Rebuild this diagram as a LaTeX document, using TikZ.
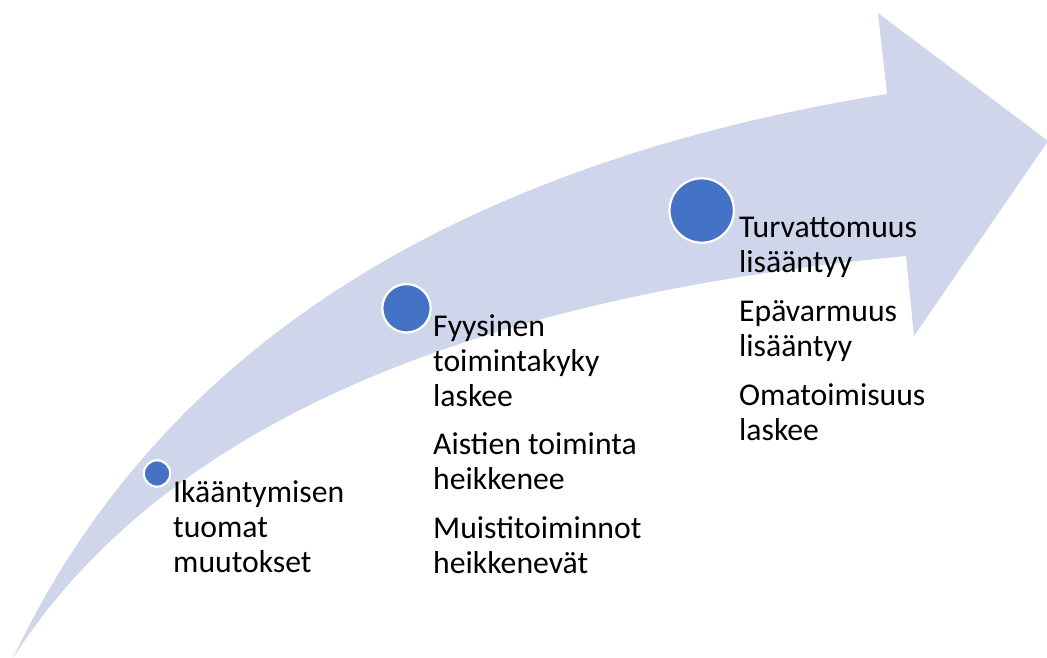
\documentclass[tikz,border=0pt]{standalone}
\usepackage{fontspec}
\setmainfont{Carlito}
\definecolor{bandfill}{HTML}{CFD5EA}
\definecolor{dotblue}{HTML}{4472C4}
\begin{document}
\begin{tikzpicture}[x=1pt,y=-1pt,
  dot/.style={circle,fill=dotblue,draw=white,line width=2.2pt,inner sep=0pt},
  label/.style={anchor=base west,inner sep=0pt,align=left,
    font=\fontsize{31.7}{35}\selectfont}]
\useasboundingbox (0,0) rectangle (1047,658);

% curved arrow band with its head (both edges are quadratic curves
% written as cubics)
\coordinate (tail) at (13,658);
\coordinate (neckTop) at (887,94);
\coordinate (headTop) at (878,13);
\coordinate (headTip) at (1048,141);
\coordinate (headBot) at (914,336);
\coordinate (neckBot) at (906,256);
\fill[bandfill]
  (tail) .. controls (157.7,352.7) and (449,164.7) .. (neckTop)
  -- (headTop) -- (headTip) -- (headBot) -- (neckBot)
  .. controls (455.3,298.7) and (157.7,432.7) .. (tail)
  -- cycle;

% milestones
\node[dot,minimum size=26.4pt] (d1) at (157,473.5) {};
\node[dot,minimum size=48.4pt] (d2) at (406.5,308.3) {};
\node[dot,minimum size=64.4pt] (d3) at (701.7,210.5) {};

% stage 1 (each node is placed at the baseline of its last line)
\node[label] (t1) at (173,572) {Ikääntymisen\\tuomat\\muutokset};

% stage 2
\node[label] (t2a) at (433,406) {Fyysinen\\toimintakyky\\laskee};
\node[label] (t2b) at (433,489) {Aistien toiminta\\heikkenee};
\node[label] (t2c) at (433,573) {Muistitoiminnot\\heikkenevät};

% stage 3
\node[label] (t3a) at (739,272) {Turvattomuus\\lisääntyy};
\node[label] (t3b) at (739,356) {Epävarmuus\\lisääntyy};
\node[label] (t3c) at (739,440) {Omatoimisuus\\laskee};
\end{tikzpicture}
\end{document}
